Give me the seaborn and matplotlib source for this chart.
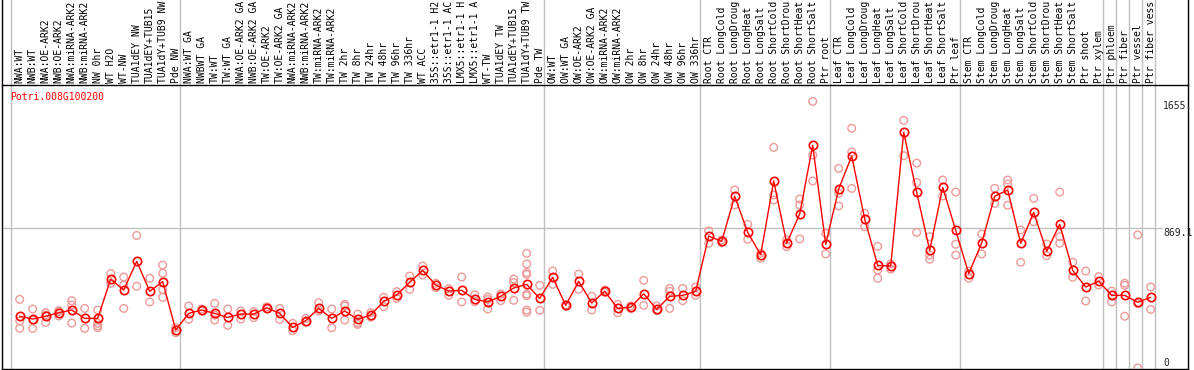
import numpy as np
import pandas as pd
import seaborn as sns
import matplotlib.pyplot as plt
import matplotlib.transforms as mtransforms

# gene shown in the panel
gene = 'Potri.008G100200'

# sample names (as printed, truncated at the top of the figure)
samples = [
    'NWA:WT', 'NWB:WT', 'NWA:OE-ARK2', 'NWB:OE-ARK2', 'NWA:miRNA-ARK2', 'NWB:miRNA-ARK2',
    'NW 0hr', 'WT H2O', 'WT-NW', 'TUA1dEY NW', 'TUA1dEY+TUB15', 'TUA1dY+TUB9 NW', 'Pde NW',
    'NWA:WT GA', 'NWBWT GA', 'TW:WT', 'TW:WT GA', 'NWA:OE-ARK2 GA', 'NWB:OE-ARK2 GA',
    'TW:OE-ARK2', 'TW:OE-ARK2 GA', 'NWA:miRNA-ARK2', 'NWB:miRNA-ARK2', 'TW:miRNA-ARK2',
    'TW:miRNA-ARK2', 'TW 2hr', 'TW 8hr', 'TW 24hr', 'TW 48hr', 'TW 96hr', 'TW 336hr',
    'WT ACC', '35S::etr1-1 H2', '35S::etr1-1 AC', 'LMX5::etr1-1 H', 'LMX5::etr1-1 A',
    'WT-TW', 'TUA1dEY TW', 'TUA1dEY+TUB15', 'TUA1dY+TUB9 TW', 'Pde TW',
    'OW:WT', 'OW:WT GA', 'OW:OE-ARK2', 'OW:OE-ARK2 GA', 'OW:miRNA-ARK2', 'OW:miRNA-ARK2',
    'OW 2hr', 'OW 8hr', 'OW 24hr', 'OW 48hr', 'OW 96hr', 'OW 336hr',
    'Root CTR', 'Root LongCold', 'Root LongDroug', 'Root LongHeat', 'Root LongSalt',
    'Root ShortCold', 'Root ShortDrou', 'Root ShortHeat', 'Root ShortSalt', 'Ptr root',
    'Leaf CTR', 'Leaf LongCold', 'Leaf LongDroug', 'Leaf LongHeat', 'Leaf LongSalt',
    'Leaf ShortCold', 'Leaf ShortDrou', 'Leaf ShortHeat', 'Leaf ShortSalt', 'Ptr leaf',
    'Stem CTR', 'Stem LongCold', 'Stem LongDroug', 'Stem LongHeat', 'Stem LongSalt',
    'Stem ShortCold', 'Stem ShortDrou', 'Stem ShortHeat', 'Stem ShortSalt', 'Ptr shoot',
    'Ptr xylem', 'Ptr phloem', 'Ptr fiber', 'Ptr vessel', 'Ptr fiber vess',
]

# mean expression per sample
means = [
    321, 304, 321, 343, 360, 308, 308, 552, 484, 662, 476, 536, 236,
    339, 360, 339, 314, 335, 335, 374, 339, 252, 294, 370, 308, 354, 302, 329,
    414, 453, 532, 606, 515, 478, 482, 426, 410, 445, 497, 519, 432,
    563, 389, 538, 403, 476, 370, 377, 461, 364, 445, 451, 476,
    819, 786, 1066, 842, 703, 1161, 774, 956, 1382, 768,
    1111, 1316, 925, 637, 633, 1463, 1090, 730, 1121, 855,
    586, 776, 1066, 1105, 774, 966, 724, 892, 606, 503, 538,
    451, 451, 408, 439,
]

# individual replicates per sample
replicates = [
    [426, 292, 246], [366, 298, 246], [343, 329, 283], [356, 350, 323], [418, 391, 279],
    [370, 246], [360, 277, 262, 250], [586, 526], [565, 515, 370], [823, 507],
    [557, 410], [639, 588, 488, 439], [250, 219],
    [385, 302], [366, 354], [401, 298, 329], [366, 265], [354, 304], [350, 312],
    [380, 368], [370, 302], [277, 232], [308, 285], [405, 354], [366, 250],
    [395, 385, 298], [335, 281, 271], [343, 316], [439, 381], [474, 432], [571, 488],
    [633, 577], [526, 499], [492, 451], [565, 410], [455, 412], [441, 366, 426],
    [459, 418], [552, 530, 420], [712, 646, 592, 581, 459, 449, 360, 346], [513, 358],
    [602, 519], [391, 385], [583, 488], [445, 360], [484, 470], [395, 343],
    [385, 370], [544, 389], [385, 356], [494, 476, 370], [494, 418], [503, 451],
    [852, 774], [795, 778], [1105, 1012], [892, 799], [712, 681], [1370, 1074, 1043],
    [795, 753], [1049, 1012, 801], [1655, 1322, 1161], [836, 708],
    [1239, 1084, 1006], [1488, 1341, 1115], [960, 877], [755, 608, 557], [646, 614],
    [1537, 1318], [1272, 1152, 842], [815, 701, 675], [1167, 1068], [1092, 768, 701],
    [602, 557], [832, 708], [1115, 1022], [1167, 1142, 1010], [857, 656],
    [1053, 908], [770, 697], [1092, 815, 774], [656, 563], [602, 416], [567, 515],
    [478, 410], [526, 513, 321], [826, 400, 0], [503, 364],
]

# last sample index of each group (-1 = line in front of the first sample)
group_ends = [-1, 12, 40, 52, 62, 72, 83, 84, 85, 86, 87]

# right hand value labels
y_values = [1655, 869.1, 0]
y_labels = ['1655.', '869.1', '0']


def buildFrames():

    """
    parse lists into dataframes for seaborn
    """

    df_mean = pd.DataFrame( { 'pos': np.arange( len( samples ) ), 'value': means } )
    rows = [ ( i, v ) for i, reps in enumerate( replicates ) for v in reps ]
    df_rep = pd.DataFrame( rows, columns=[ 'pos', 'value' ] )
    return df_mean, df_rep


def plotExpression( df_mean, df_rep ):

    """
    draw expression profile
    """

    W, H = 1194, 370
    fig = plt.figure( figsize=( W / 100, H / 100 ), dpi=100 )
    ax = fig.add_axes( [ 2 / W, 1 / H, 1186 / W, 284 / H ] )

    mono = 'DejaVu Sans Mono'
    grey = '#c0c0c0'

    # replicates behind the mean line
    sns.scatterplot( data=df_rep, x='pos', y='value', ax=ax, marker='o', s=30,
                     color='#ef9a9a', edgecolor='#ef9a9a', linewidth=1.0, zorder=3, legend=False )
    ax.collections[ -1 ].set_facecolor( 'none' )

    sns.lineplot( data=df_mean, x='pos', y='value', ax=ax, color='red', lw=1,
                  marker='o', markersize=6, markerfacecolor='none', markeredgecolor='red',
                  markeredgewidth=1.2, zorder=4 )

    # axis ranges: 13 px per sample, 0 at 1 px above the bottom frame
    xmin = -17.7 / 13
    ax.set_xlim( xmin, xmin + 1186 / 13 )
    ymin = -1 * 1738.2 / 280
    ax.set_ylim( ymin, ymin + 284 * 1738.2 / 280 )

    # group separators running up through the label area
    for g in group_ends:
        ax.axvline( g + 0.3, 0, 1.31, color=grey, lw=1, clip_on=False, zorder=1 )

    # mid line
    ax.axhline( y_values[ 1 ], 0, 1160 / 1186, color=grey, lw=1, zorder=1 )

    # frame extends to the top of the figure on both sides
    for xa in [ 0, 1 ]:
        ax.plot( [ xa, xa ], [ 1, 1.31 ], transform=ax.transAxes, color='black', lw=1, clip_on=False )

    # sample labels above the plot
    trans = mtransforms.blended_transform_factory( ax.transData, ax.transAxes )
    for i, name in enumerate( samples ):
        ax.text( i, 1 + 2 / 284, name, transform=trans, rotation=90, ha='center', va='bottom',
                 fontsize=7, family=mono, color='black', clip_on=False )

    # value labels on the right
    trans = mtransforms.blended_transform_factory( ax.transAxes, ax.transData )
    for v, lab in zip( y_values, y_labels ):
        va = 'bottom' if v == 0 else 'top'
        ax.text( 1161 / 1186, v, lab, transform=trans, ha='left', va=va, fontsize=7, family=mono )

    # gene name
    ax.text( 8 / 1186, 1 - 12 / 284, gene, transform=ax.transAxes, ha='left', va='center',
             fontsize=7, family=mono, color='red' )

    ax.set_xticks( [] )
    ax.set_yticks( [] )
    ax.set_xlabel( '' )
    ax.set_ylabel( '' )
    for s in ax.spines.values():
        s.set_color( 'black' )
        s.set_linewidth( 1 )

    fig.savefig( 'out.png', dpi=100, facecolor='white' )
    return


def main():

    """
    main path of execution
    """

    sns.set_style( 'white' )
    plt.rcParams[ 'font.family' ] = [ 'DejaVu Sans Mono', 'DejaVu Sans' ]

    df_mean, df_rep = buildFrames()
    plotExpression( df_mean, df_rep )
    return


# execute main
if __name__ == '__main__':
    main()
